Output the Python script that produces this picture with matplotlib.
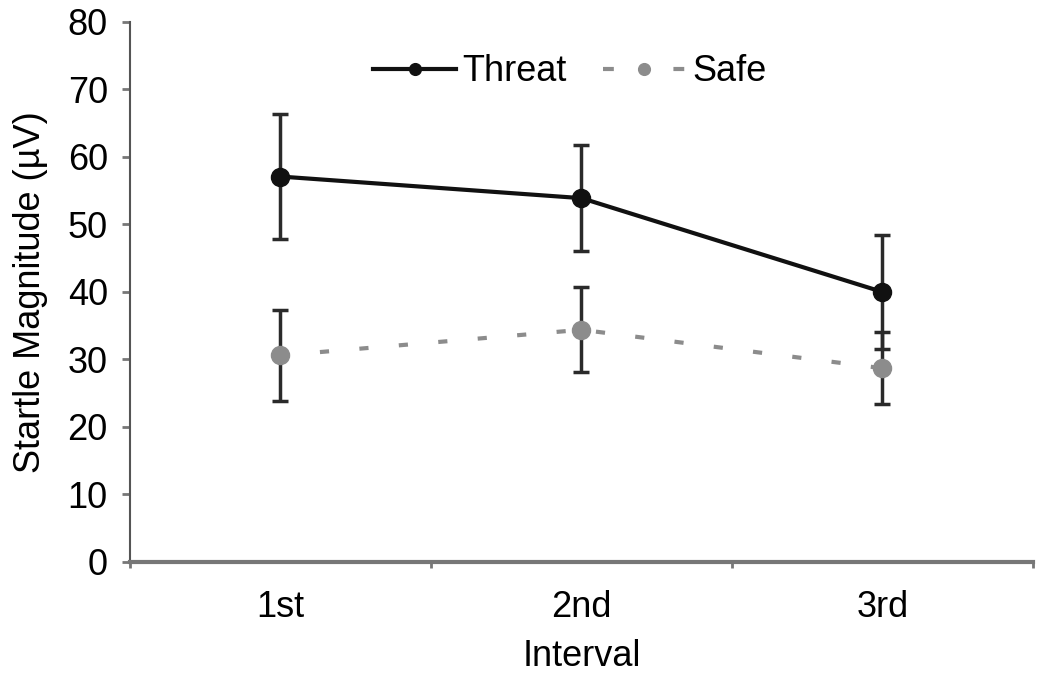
import numpy as np
import matplotlib
matplotlib.use('Agg')
import matplotlib.pyplot as plt
from matplotlib.lines import Line2D

plt.rcParams['font.family'] = ['Liberation Sans', 'DejaVu Sans']

intervals = ['1st', '2nd', '3rd']
threat_mean = [57.1, 53.9, 40.0]
threat_err = [9.3, 7.8, 8.4]
safe_mean = [30.6, 34.4, 28.7]
safe_err = [6.8, 6.3, 5.3]

FS = 26
SAFE_COLOR = '#8c8c8c'

fig = plt.figure(figsize=(10.5, 6.78), dpi=100)
ax = fig.add_axes([0.1238, 0.1711, 0.86, 0.7965])

x = np.arange(len(intervals)) + 0.5

# error bars first, markers on top
ax.errorbar(x, threat_mean, yerr=threat_err, fmt='none', ecolor='#2a2a2a',
            elinewidth=2.5, capsize=6, capthick=2.5, zorder=2)
ax.errorbar(x, safe_mean, yerr=safe_err, fmt='none', ecolor='#2a2a2a',
            elinewidth=2.5, capsize=6, capthick=2.5, zorder=2)

h_threat, = ax.plot(x, threat_mean, color='#111111', lw=3, marker='o',
                    markersize=13, label='Threat', zorder=3)
ax.plot(x, safe_mean, color=SAFE_COLOR, lw=3, linestyle=(0, (2.2, 7.3)),
        marker='o', markersize=13, zorder=3)

# legend handle for safe: dash - dot - dash
h_safe = Line2D([], [], color=SAFE_COLOR, lw=3, linestyle=(0, (2.6, 14.3)),
                marker='o', markersize=13, label='Safe')

ax.set_xlim(0, 3)
ax.set_ylim(0, 80)
ax.set_yticks(np.arange(0, 81, 10))
ax.set_xticks([0, 1, 2, 3])
ax.set_xticklabels([])
ax.set_xticks(x, minor=True)
ax.set_xticklabels(intervals, minor=True)
ax.tick_params(axis='x', which='minor', length=0, pad=20, labelsize=FS)
ax.tick_params(axis='x', which='major', length=4, width=2, color='#777777')
ax.tick_params(axis='y', length=6, width=2, color='#777777', labelsize=FS, pad=10)

for s in ['top', 'right']:
    ax.spines[s].set_visible(False)
ax.spines['left'].set_color('#555555')
ax.spines['left'].set_linewidth(1.5)
ax.spines['bottom'].set_color('#777777')
ax.spines['bottom'].set_linewidth(3)

ax.set_xlabel('Interval', fontsize=FS, labelpad=10)
ax.set_ylabel('Startle Magnitude (µV)', fontsize=FS, labelpad=14)

ax.legend(handles=[h_threat, h_safe], loc='upper center',
          bbox_to_anchor=(0.487, 1.0), ncol=2, frameon=False,
          fontsize=FS, handlelength=2.3, handletextpad=0.17, columnspacing=1.0,
          markerscale=0.65)

fig.savefig('out.png', dpi=100)
